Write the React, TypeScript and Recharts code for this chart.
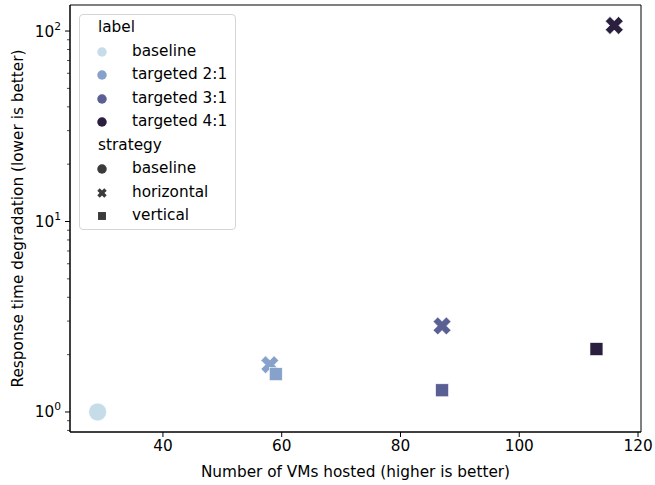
import { ReferenceArea, Scatter, ScatterChart, XAxis, YAxis } from 'recharts';

const labels = ['baseline', 'targeted 2:1', 'targeted 3:1', 'targeted 4:1'];
const labelColors = ['#c6dde9', '#87a2ca', '#5a5f94', '#2b1f40'];
const strategies = ['baseline', 'horizontal', 'vertical'];

const pointLabel = ['baseline', 'targeted 2:1', 'targeted 2:1', 'targeted 3:1', 'targeted 3:1', 'targeted 4:1', 'targeted 4:1'];
const pointStrategy = ['baseline', 'horizontal', 'vertical', 'horizontal', 'vertical', 'vertical', 'horizontal'];
const vmsHosted = [29, 58, 59, 87, 87, 113, 116];
const degradation = [1.0, 1.77, 1.58, 2.83, 1.3, 2.14, 107];

const xTicks = [40, 60, 80, 100, 120];
const yMajorTicks = [1, 10, 100];
const yMinorTicks = [0.8, 0.9, 2, 3, 4, 5, 6, 7, 8, 9, 20, 30, 40, 50, 60, 70, 80, 90];

const X_DOMAIN: [number, number] = [24.35, 120.5];
const Y_DOMAIN: [number, number] = [0.785, 137];

const FONT = 'DejaVu Sans, sans-serif';
const FONT_SIZE = 15.3;
const MARKER_GREY = '#3b3b3b';

const data = vmsHosted.map((vms, i) => ({
    vms,
    degradation: degradation[i],
    label: pointLabel[i],
    strategy: pointStrategy[i],
}));

const allYTicks = [...yMajorTicks, ...yMinorTicks].sort((a, b) => a - b);

function Marker({ kind, cx, cy, size, color, edge }: { kind: string; cx: number; cy: number; size: number; color: string; edge?: boolean }) {
    const stroke = edge ? '#ffffff' : 'none';
    if (kind === 'baseline') {
        return <circle cx={cx} cy={cy} r={size / 2} fill={color} stroke={stroke} strokeWidth={0.6} />;
    }
    if (kind === 'vertical') {
        const h = size * 0.36;
        return <rect x={cx - h} y={cy - h} width={h * 2} height={h * 2} fill={color} stroke={stroke} strokeWidth={0.6} />;
    }
    // thick filled X
    const r = size * 0.52;
    const t = r * 0.35;
    const pts = [
        [-t, -r], [t, -r], [t, -t], [r, -t], [r, t], [t, t],
        [t, r], [-t, r], [-t, t], [-r, t], [-r, -t], [-t, -t],
    ].map(([px, py]) => `${px},${py}`).join(' ');
    return (
        <polygon
            points={pts}
            transform={`translate(${cx},${cy}) rotate(45)`}
            fill={color}
            stroke={stroke}
            strokeWidth={0.6}
        />
    );
}

const PointShape = (props: any) => {
    const { cx, cy, payload } = props;
    const color = labelColors[labels.indexOf(payload.label)];
    return <Marker kind={payload.strategy} cx={cx} cy={cy} size={18} color={color} edge />;
};

const LogTick = (props: any) => {
    const { x, y, payload } = props;
    const v = payload.value as number;
    const major = yMajorTicks.includes(v);
    const len = major ? 5 : 3;
    return (
        <g>
            <line x1={x - len} x2={x} y1={y} y2={y} stroke="#000" strokeWidth={major ? 1 : 0.7} />
            {major && (
                <text x={x - len - 4} y={y + 5.5} textAnchor="end" fontSize={FONT_SIZE} fontFamily={FONT} fill="#000">
                    10
                    <tspan dy={-7} fontSize={10.7}>
                        {Math.round(Math.log10(v))}
                    </tspan>
                </text>
            )}
        </g>
    );
};

function LegendBox() {
    const rows: { text: string; title?: boolean; kind?: string; color?: string }[] = [
        { text: 'label', title: true },
        ...labels.map((l, i) => ({ text: l, kind: 'baseline', color: labelColors[i] })),
        { text: 'strategy', title: true },
        ...strategies.map((s) => ({ text: s, kind: s, color: MARKER_GREY })),
    ];
    return (
        <div
            style={{
                position: 'absolute',
                left: 79,
                top: 14,
                width: 157,
                height: 216,
                border: '1px solid #d5d5d5',
                borderRadius: 4,
                background: 'rgba(255,255,255,0.8)',
                fontFamily: FONT,
                fontSize: FONT_SIZE,
                color: '#000',
                boxSizing: 'border-box',
            }}
        >
            {rows.map((r, i) => (
                <div key={i} style={{ position: 'absolute', top: 2 + i * 23.5, left: 0, height: 20, lineHeight: '20px', whiteSpace: 'nowrap' }}>
                    {r.title ? (
                        <span style={{ position: 'absolute', left: 18 }}>{r.text}</span>
                    ) : (
                        <>
                            <svg width={16} height={20} style={{ position: 'absolute', left: 14, top: 0 }}>
                                <Marker kind={r.kind!} cx={8} cy={11} size={r.kind === 'vertical' ? 11 : 9.5} color={r.color!} />
                            </svg>
                            <span style={{ position: 'absolute', left: 52 }}>{r.text}</span>
                        </>
                    )}
                </div>
            ))}
        </div>
    );
}

export default function App() {
    return (
        <div style={{ position: 'absolute', left: 0, top: 0, width: 655, height: 485, background: '#fff' }}>
            <ScatterChart width={655} height={485} margin={{ top: 5, right: 14, bottom: 0, left: 0 }}>
                <XAxis
                    xAxisId="main"
                    type="number"
                    dataKey="vms"
                    domain={X_DOMAIN}
                    allowDataOverflow
                    ticks={xTicks}
                    interval={0}
                    height={53}
                    tickSize={5}
                    tickMargin={3}
                    stroke="#000"
                    tick={{ fontSize: FONT_SIZE, fill: '#000', fontFamily: FONT }}
                    label={{
                        value: 'Number of VMs hosted (higher is better)',
                        position: 'insideBottom',
                        offset: 8,
                        fontSize: FONT_SIZE,
                        fill: '#000',
                        fontFamily: FONT,
                    }}
                />
                <YAxis
                    yAxisId="main"
                    type="number"
                    dataKey="degradation"
                    scale="log"
                    domain={Y_DOMAIN}
                    allowDataOverflow
                    ticks={allYTicks}
                    interval={0}
                    width={70}
                    tickSize={0}
                    tickMargin={0}
                    tickLine={false}
                    stroke="#000"
                    tick={<LogTick />}
                    label={{
                        content: ({ viewBox }: any) => (
                            <text
                                x={0}
                                y={0}
                                transform={`translate(${viewBox.x + 22.5},${viewBox.y + viewBox.height / 2}) rotate(-90)`}
                                textAnchor="middle"
                                fontSize={FONT_SIZE}
                                fontFamily={FONT}
                                fill="#000"
                            >
                                Response time degradation (lower is better)
                            </text>
                        ),
                    }}
                />
                <ReferenceArea
                    xAxisId="main"
                    yAxisId="main"
                    x1={X_DOMAIN[0]}
                    x2={X_DOMAIN[1]}
                    y1={Y_DOMAIN[0]}
                    y2={Y_DOMAIN[1]}
                    ifOverflow="visible"
                    fill="none"
                    fillOpacity={0}
                    stroke="#000"
                    strokeWidth={1}
                />
                <Scatter
                    xAxisId="main"
                    yAxisId="main"
                    data={data}
                    shape={PointShape}
                    isAnimationActive={false}
                />
            </ScatterChart>
            <LegendBox />
        </div>
    );
}
